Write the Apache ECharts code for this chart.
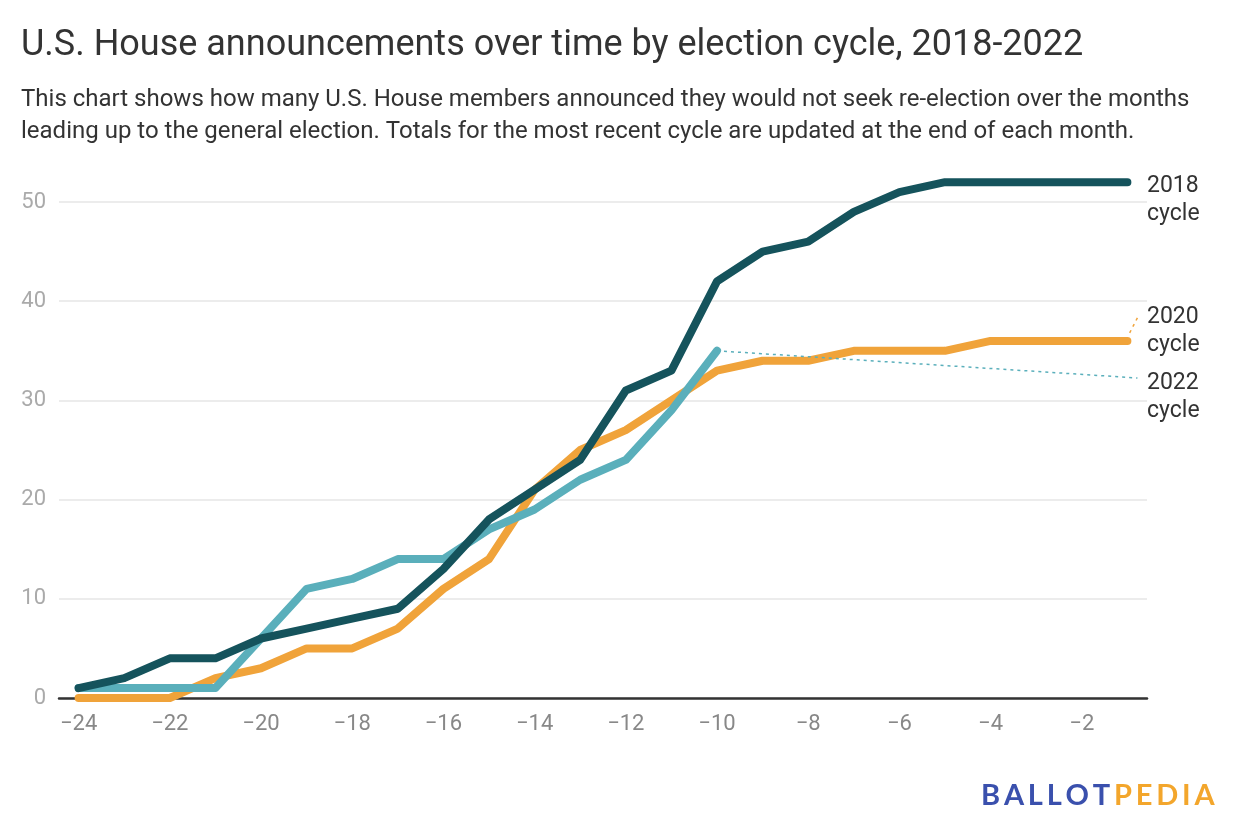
<!DOCTYPE html>
<html>
<head>
<meta charset="utf-8">
<script src="https://cdn.jsdelivr.net/npm/echarts@6/dist/echarts.min.js"></script>
<style>
html,body{margin:0;padding:0;background:#fff;}
#c{width:1240px;height:840px;}
</style>
</head>
<body>
<div id="c"></div>
<script>
const months = [-24,-23,-22,-21,-20,-19,-18,-17,-16,-15,-14,-13,-12,-11,-10,-9,-8,-7,-6,-5,-4,-3,-2,-1];
const cycle2018 = [1,2,4,4,6,7,8,9,13,18,21,24,31,33,42,45,46,49,51,52,52,52,52,52];
const cycle2020 = [0,0,0,2,3,5,5,7,11,14,21,25,27,30,33,34,34,35,35,35,36,36,36,36];
const cycle2022 = [1,1,1,1,6,11,12,14,14,17,19,22,24,29,35];
const xTickLabels = [-24,-22,-20,-18,-16,-14,-12,-10,-8,-6,-4,-2];
const seriesNames = ['2018 cycle','2020 cycle','2022 cycle'];
// label anchors (in data units) and connector ends
const labelAnchorY = [51.6, 38.4, 31.75];
const connector2020 = [[-0.95, 36.8], [-0.75, 38.6]];
const connector2022 = [[-10, 35], [-0.78, 32.26]];

const colors = ['#15535c', '#f0a33a', '#5aafbb'];
const FONT = 'Roboto';

function pairs(xs, ys){ return ys.map((v,i)=>[xs[i], v]); }

const chart = echarts.init(document.getElementById('c'));
const lineBase = {
  type:'line', symbol:'none', clip:false, smooth:false,
  emphasis:{disabled:true}
};
chart.setOption({
  animation:false,
  textStyle:{fontFamily:FONT},
  title:[
    {text:'U.S. House announcements over time by election cycle, 2018-2022', left:16, top:23,
     textStyle:{fontFamily:FONT, fontSize:36, fontWeight:'normal', color:'#333'}},
    {text:'This chart shows how many U.S. House members announced they would not seek re-election over the months\nleading up to the general election. Totals for the most recent cycle are updated at the end of each month.',
     left:16, top:79, textStyle:{fontFamily:FONT, fontSize:24, fontWeight:'normal', color:'#333', lineHeight:32}}
  ],
  grid:{left:59, right:93, top:202, bottom:142, containLabel:false},
  xAxis:{
    type:'value', min:-24.43, max:-0.57,
    splitLine:{show:false},
    axisLine:{show:true, onZero:false, lineStyle:{color:'#333', width:2.5}},
    axisTick:{show:false},
    axisLabel:{customValues:xTickLabels, color:'#888', fontSize:22, fontFamily:FONT, margin:15,
      formatter:v=> (v<0 ? '\u2212'+Math.abs(v) : String(v))}
  },
  yAxis:{
    type:'value', min:0, max:50, interval:10,
    axisLine:{show:false}, axisTick:{show:false},
    splitLine:{show:true, lineStyle:{color:'#e6e6e6', width:1.5}},
    axisLabel:{color:'#aaa', fontSize:22, fontFamily:FONT, margin:13}
  },
  series:[
    Object.assign({}, lineBase, {name:seriesNames[1], data:pairs(months, cycle2020), z:3,
      lineStyle:{color:colors[1], width:8, cap:'round', join:'round'},
      markLine:{symbol:'none', silent:true, label:{show:false}, emphasis:{disabled:true},
        lineStyle:{color:colors[1], type:[3,4], width:1.5},
        data:[[{coord:connector2020[0]},{coord:connector2020[1]}]]}}),
    Object.assign({}, lineBase, {name:seriesNames[2], data:pairs(months, cycle2022), z:4,
      lineStyle:{color:colors[2], width:8, cap:'round', join:'round'},
      markLine:{symbol:'none', silent:true, label:{show:false}, emphasis:{disabled:true},
        lineStyle:{color:colors[2], type:[3,4], width:1.5},
        data:[[{coord:connector2022[0]},{coord:connector2022[1]}]]}}),
    Object.assign({}, lineBase, {name:seriesNames[0], data:pairs(months, cycle2018), z:5,
      lineStyle:{color:colors[0], width:8, cap:'round', join:'round'}})
  ]
});

// series end labels placed using the chart's own scales
const labelX = chart.convertToPixel({gridIndex:0}, [-0.57, 0])[0];
const graphics = labelAnchorY.map((yv, i) => {
  const py = chart.convertToPixel({gridIndex:0}, [-1, yv])[1];
  const parts = seriesNames[i].split(' ');
  return {type:'text', left:labelX, top:py-14, z:10,
    style:{text:parts[0]+'\n'+parts[1], fill:'#333', font:'23px '+FONT, lineHeight:28}};
});
// Ballotpedia wordmark with letter spacing
const logoFont = 'bold 29px Lato';
const ctx = document.createElement('canvas').getContext('2d');
ctx.font = logoFont;
const logoText = 'BALLOTPEDIA';
let lx = 981;
const spacing = 3.8;
for (let i = 0; i < logoText.length; i++) {
  const ch = logoText[i];
  graphics.push({type:'text', left:lx, top:781, z:10,
    style:{text:ch, fill: i < 6 ? '#3a50ad' : '#f3a62c', font:logoFont}});
  lx += ctx.measureText(ch).width + spacing;
}
chart.setOption({graphic:graphics});
</script>
</body>
</html>
